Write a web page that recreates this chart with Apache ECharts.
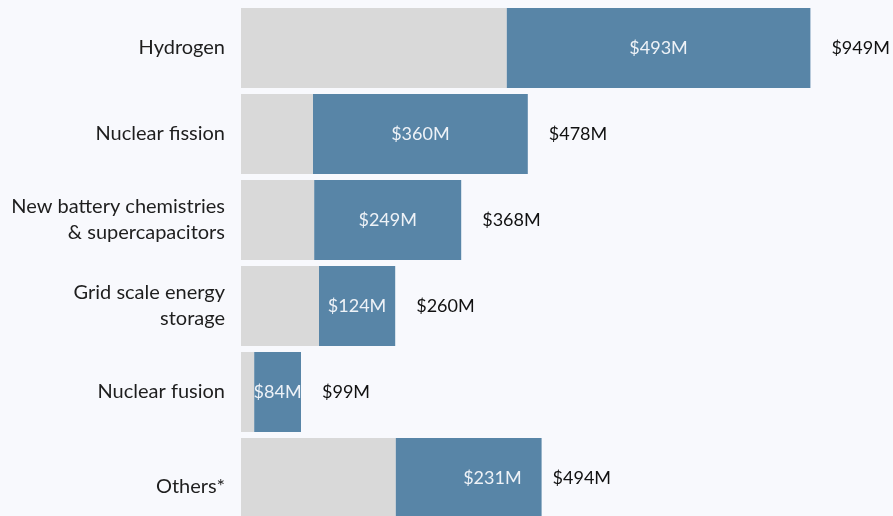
<!DOCTYPE html>
<html>
<head>
<meta charset="utf-8">
<script src="https://cdn.jsdelivr.net/npm/echarts@6/dist/echarts.min.js"></script>
<style>
  html, body { margin: 0; padding: 0; background: #f8f9fd; overflow: hidden; }
  /* taller than the window so the last bar runs off the bottom edge */
  #main { width: 893px; height: 524px; }
</style>
</head>
<body>
<div id="main"></div>
<script>
// categories, top to bottom
var categories = [
  "Hydrogen",
  "Nuclear fission",
  "New battery chemistries\n& supercapacitors",
  "Grid scale energy\nstorage",
  "Nuclear fusion",
  "Others*"
];
// bar lengths ($M)
var grayValues = [443, 120, 122, 130, 22, 258];
var blueValues = [506, 358, 245, 127, 78, 243];
// printed labels
var blueLabels = [493, 360, 249, 124, 84, 231];
var totalLabels = [949, 478, 368, 260, 99, 494];
var zeros = [0, 0, 0, 0, 0, 0];

var font = "Lato";

var chart = echarts.init(document.getElementById("main"));
chart.setOption({
  backgroundColor: "#f8f9fd",
  animation: false,
  grid: {
    left: 241,
    top: 5,
    height: 516,
    width: 600
  },
  xAxis: {
    type: "value",
    min: 0,
    max: 1000,
    show: false
  },
  yAxis: {
    type: "category",
    inverse: true,
    data: categories,
    axisLine: { show: false },
    axisTick: { show: false },
    splitLine: { show: false },
    axisLabel: {
      margin: 16,
      color: "#1e1e1e",
      fontFamily: font,
      fontSize: 20,
      lineHeight: 26,
      formatter: function(v) {
        // the last label sits a bit lower in the original
        if (v === "Others*") return "{low|" + v + "}";
        return v;
      },
      rich: {
        low: {
          fontFamily: font,
          fontSize: 20,
          color: "#1e1e1e",
          padding: [18, 0, 0, 0]
        }
      }
    }
  },
  series: [
    {
      name: "gray",
      type: "bar",
      stack: "s",
      barWidth: 80,
      itemStyle: { color: "#d9d9d9" },
      data: grayValues
    },
    {
      name: "blue",
      type: "bar",
      stack: "s",
      barWidth: 80,
      itemStyle: { color: "#5885a7" },
      label: {
        show: true,
        position: "inside",
        color: "#eef2f7",
        fontFamily: font,
        fontSize: 18,
        formatter: function(p) {
          return "$" + blueLabels[p.dataIndex] + "M";
        }
      },
      data: blueValues.map(function(v, i) {
        if (i === 5) {
          return { value: v, label: { position: "insideRight", distance: 20 } };
        }
        return v;
      })
    },
    {
      name: "total",
      type: "bar",
      stack: "s",
      barWidth: 80,
      itemStyle: { color: "transparent" },
      label: {
        show: true,
        position: "right",
        distance: 21,
        color: "#111111",
        fontFamily: font,
        fontSize: 18,
        formatter: function(p) {
          return "$" + totalLabels[p.dataIndex] + "M";
        }
      },
      data: zeros.map(function(v, i) {
        if (i === 5) return { value: v, label: { distance: 11 } };
        return v;
      })
    }
  ]
});
</script>
</body>
</html>
